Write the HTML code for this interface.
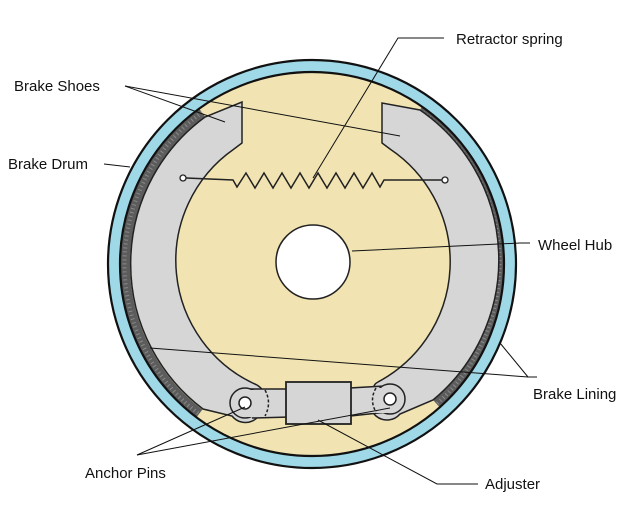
<!DOCTYPE html>
<html><head><meta charset="utf-8"><style>
html,body{margin:0;padding:0;background:#fff;}
svg{display:block;}
text{font-family:"Liberation Sans",sans-serif;font-size:15px;fill:#111;}
</style></head><body>
<svg width="637" height="511" viewBox="0 0 637 511" xmlns="http://www.w3.org/2000/svg">
<rect width="637" height="511" fill="#fff"/>
<circle cx="312" cy="264" r="192" fill="#f1e4b2"/>
<!-- linings -->
<path d="M202,112.5 A187.5,187.5 0 0 0 199,414" fill="none" stroke="#5c5c5c" stroke-width="11"/>
<path d="M419.6,110.4 A187.5,187.5 0 0 1 436.7,404" fill="none" stroke="#5c5c5c" stroke-width="11"/>
<path d="M202,112.5 A187.5,187.5 0 0 0 199,414" fill="none" stroke="#8a8a8a" stroke-width="4" stroke-dasharray="1 3"/>
<path d="M419.6,110.4 A187.5,187.5 0 0 1 436.7,404" fill="none" stroke="#8a8a8a" stroke-width="4" stroke-dasharray="1 3"/>
<!-- shoes -->
<path d="M242,102 L242,143 L234,149 A136,136 0 0 0 257,385 Q268,392 262,402 A17,17 0 0 1 232,416 L203,409 A182,182 0 0 1 205,117 Z" fill="#d6d6d6" stroke="#222" stroke-width="1.5"/>
<path d="M382,103 L382,143 L390,149 A136,136 0 0 1 378,382 Q372,385 374,392 A17,17 0 0 0 400,414 L433,400 A182,182 0 0 0 420,110 Z" fill="#d6d6d6" stroke="#222" stroke-width="1.5"/>
<!-- links -->
<path d="M250,389 L290,389 L290,417 L252,418" fill="#d6d6d6" stroke="#222" stroke-width="1.5"/>
<path d="M385,386 L350,388 L350,416 L388,412" fill="#d6d6d6" stroke="#222" stroke-width="1.5"/>
<circle cx="245" cy="403" r="15" fill="#d6d6d6" stroke="#222" stroke-width="1.5"/>
<circle cx="390" cy="399" r="15" fill="#d6d6d6" stroke="#222" stroke-width="1.5"/>
<rect x="245" y="390" width="20" height="27" fill="#d6d6d6"/>
<rect x="372" y="388" width="18" height="25" fill="#d6d6d6"/>
<path d="M265,390 Q272,403 265,416" fill="none" stroke="#222" stroke-width="1.5" stroke-dasharray="3 2"/>
<path d="M376,388 Q369,400 376,412" fill="none" stroke="#222" stroke-width="1.5" stroke-dasharray="3 2"/>
<circle cx="245" cy="403" r="6" fill="#fff" stroke="#222" stroke-width="1.5"/>
<circle cx="390" cy="399" r="6" fill="#fff" stroke="#222" stroke-width="1.5"/>
<rect x="286" y="382" width="65" height="42" fill="#d6d6d6" stroke="#222" stroke-width="1.8"/>
<!-- hub -->
<circle cx="313" cy="262" r="37" fill="#fff" stroke="#222" stroke-width="1.5"/>
<!-- spring -->
<circle cx="183" cy="178" r="3" fill="#fff" stroke="#222" stroke-width="1.3"/>
<circle cx="445" cy="180" r="3" fill="#fff" stroke="#222" stroke-width="1.3"/>
<polyline points="186,178 233,180 237,187 246,173 255,188 264,173 273,188 282,173 291,188 300,173 309,188 318,173 327,188 336,173 345,188 354,173 363,188 372,173 380,187 384,180 442,180" fill="none" stroke="#222" stroke-width="1.5"/>
<!-- drum ring -->
<circle cx="312" cy="264" r="198" fill="none" stroke="#9fd8e6" stroke-width="12"/>
<circle cx="312" cy="264" r="204" fill="none" stroke="#111" stroke-width="2.2"/>
<circle cx="312" cy="264" r="192" fill="none" stroke="#111" stroke-width="2.2"/>
<!-- leader lines -->
<g stroke="#111" stroke-width="1" fill="none">
<polyline points="444,38 398,38 313,178"/>
<line x1="125" y1="86" x2="225" y2="122"/>
<line x1="125" y1="86" x2="400" y2="136"/>
<line x1="104" y1="164" x2="130" y2="167"/>
<polyline points="530,243 520,243 352,251"/>
<polyline points="537,377 528,377 150,348"/>
<line x1="528" y1="377" x2="500" y2="343"/>
<line x1="137" y1="455" x2="245" y2="407"/>
<line x1="137" y1="455" x2="390" y2="408"/>
<polyline points="478,484 437,484 318,420"/>
</g>
<text x="456" y="44">Retractor spring</text>
<text x="14" y="91">Brake Shoes</text>
<text x="8" y="169">Brake Drum</text>
<text x="538" y="250">Wheel Hub</text>
<text x="533" y="399">Brake Lining</text>
<text x="85" y="478">Anchor Pins</text>
<text x="485" y="489">Adjuster</text>
</svg>
</body></html>
